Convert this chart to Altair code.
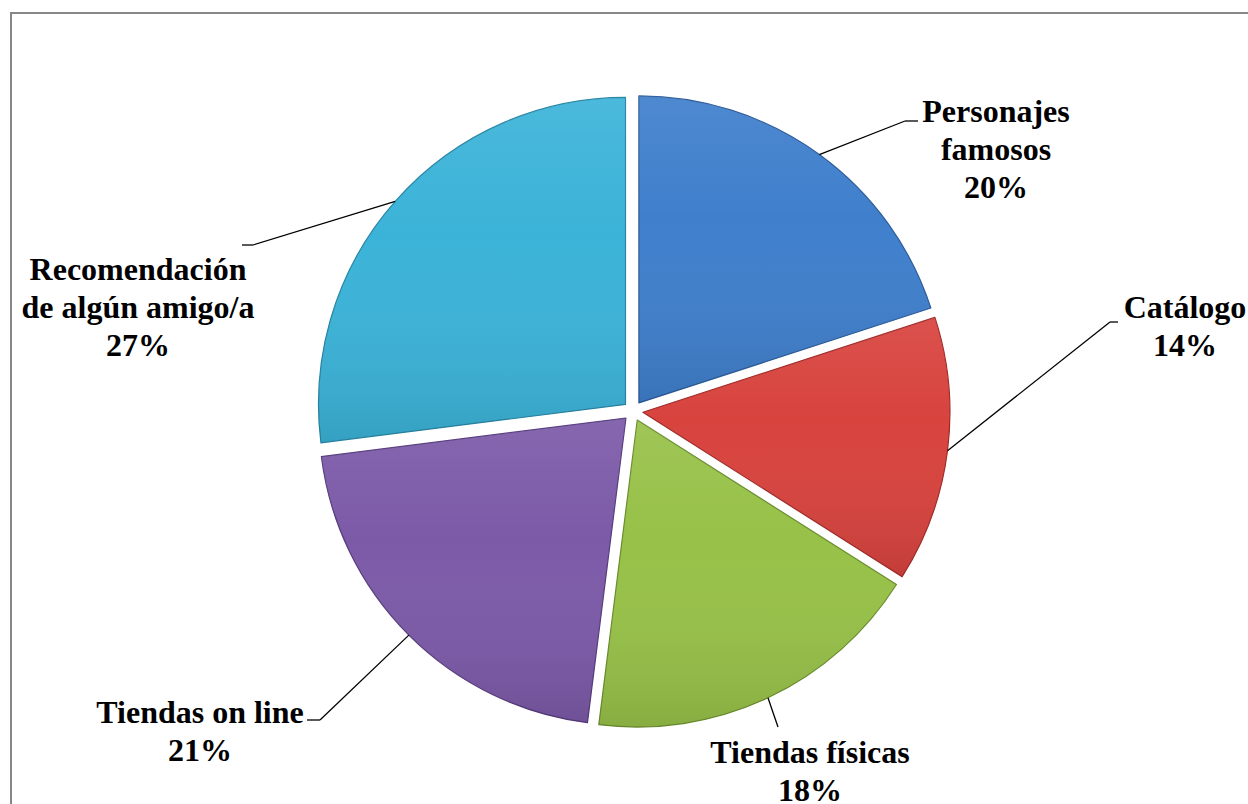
import altair as alt
import pandas as pd

# ---- data -------------------------------------------------------------
categories = ["Personajes famosos", "Catálogo", "Tiendas físicas",
              "Tiendas on line", "Recomendación de algún amigo/a"]
values = [20, 14, 18, 21, 27]
label_names = ["Personajes\nfamosos", "Catálogo", "Tiendas físicas",
               "Tiendas on line", "Recomendación\nde algún amigo/a"]
colors = ["#3F7FCC", "#D8433E", "#97C148", "#7C5AA8", "#3BB3D8"]
edge_colors = ["#2D5C9A", "#A02A26", "#6A8C2E", "#563C7C", "#2785A4"]

# ---- layout (pixels) --------------------------------------------------
W, H = 1248, 804
CX, CY = 633, 411          # pie centre
R = 307                    # radius
EXPLODE = 10               # slice explosion distance
label_x = [996, 1185, 810, 200, 138]
label_y = [112, 308, 753, 713, 270]   # centre of first text line
elbow_x = [905, 1110, 778, 320, 253]
elbow_y = [121, 322, 727, 720, 245]
end_x = [918, 1118, 778, 307, 242]

df = pd.DataFrame({
    "cat": categories,
    "value": values,
    "order": list(range(len(categories))),
    "name": label_names,
    "lx": label_x, "ly": label_y,
    "ex": elbow_x, "ey": elbow_y, "tx": end_x,
})

base = alt.Chart(df).transform_window(
    cum="sum(value)", sort=[alt.SortField("order")], frame=[None, 0]
).transform_joinaggregate(
    total="sum(value)"
).transform_calculate(
    t0="2*PI*(datum.cum - datum.value)/datum.total",
    t1="2*PI*datum.cum/datum.total",
    mid="2*PI*(datum.cum - datum.value/2)/datum.total",
).transform_calculate(
    ax=f"{CX} + {EXPLODE}*sin(datum.mid)",
    ay=f"{CY} - {EXPLODE}*cos(datum.mid)",
    sx=f"{CX} + {R + EXPLODE}*sin(datum.mid)",
    sy=f"{CY} - {R + EXPLODE}*cos(datum.mid)",
    label="datum.name + '\\n' + format(datum.value/datum.total, '.0%')",
)

pos = dict(
    x=alt.X("ax:Q", scale=None, axis=None),
    y=alt.Y("ay:Q", scale=None, axis=None),
    theta=alt.Theta("t0:Q", scale=None),
    theta2="t1:Q",
)

slices = base.mark_arc(outerRadius=R, strokeWidth=1.2, strokeJoin="round").encode(
    color=alt.Color("cat:N", scale=alt.Scale(domain=categories, range=colors), legend=None),
    stroke=alt.Stroke("cat:N", scale=alt.Scale(domain=categories, range=edge_colors), legend=None),
    **pos,
)

shade = base.mark_arc(
    outerRadius=R,
    fill=alt.Gradient(
        gradient="linear",
        stops=[
            alt.GradientStop(color="rgba(255,255,255,0.08)", offset=0),
            alt.GradientStop(color="rgba(255,255,255,0.0)", offset=0.4),
            alt.GradientStop(color="rgba(0,0,0,0.10)", offset=1),
        ],
        x1=0, x2=0, y1=0, y2=1,
    ),
).encode(**pos)

leader1 = base.mark_rule(color="black", strokeWidth=1.3).encode(
    x=alt.X("sx:Q", scale=None), y=alt.Y("sy:Q", scale=None),
    x2="ex:Q", y2="ey:Q",
)
leader2 = base.mark_rule(color="black", strokeWidth=1.3).encode(
    x=alt.X("ex:Q", scale=None), y=alt.Y("ey:Q", scale=None),
    x2="tx:Q", y2="ey:Q",
)

labels = base.mark_text(
    font="Liberation Serif", fontWeight="bold", fontSize=32, lineHeight=38,
    lineBreak="\n", align="center", baseline="middle", color="black",
).encode(
    x=alt.X("lx:Q", scale=None), y=alt.Y("ly:Q", scale=None), text="label:N",
)

frame = alt.Chart(pd.DataFrame({"k": [0]})).mark_rect(
    fillOpacity=0, stroke="#878787", strokeWidth=2,
).encode(
    x=alt.value(11), y=alt.value(13), x2=alt.value(W + 40), y2=alt.value(H + 40),
)

chart = alt.layer(frame, slices, shade, leader1, leader2, labels).properties(
    width=W, height=H,
    autosize=alt.AutoSizeParams(type="none"),
    padding=0,
    background="white",
).configure_view(strokeWidth=0)

chart.save("out.html", embed_options={"renderer": "svg", "actions": False})
